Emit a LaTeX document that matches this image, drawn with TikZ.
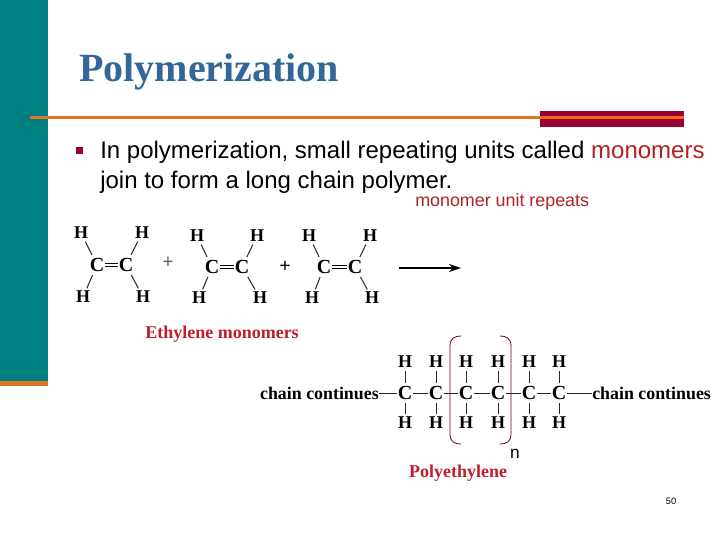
\documentclass[tikz,border=0pt]{standalone}
\usepackage{fontspec}
\usetikzlibrary{arrows.meta}
\setmainfont{Liberation Sans}
\newfontfamily\serifbf{Liberation Serif}[BoldFont={Liberation Serif Bold}]
\definecolor{tealbar}{RGB}{0,128,128}
\definecolor{orangeline}{RGB}{222,118,38}
\definecolor{stripe}{RGB}{245,105,20}
\definecolor{darkred}{RGB}{153,0,51}
\definecolor{titleblue}{RGB}{51,102,153}
\definecolor{chemred}{RGB}{190,30,45}
\definecolor{wordred}{RGB}{178,34,34}
\tikzset{
  x=0.75pt,y=-0.75pt,
  atom/.style={inner sep=0.5pt,font=\serifbf\bfseries\fontsize{13.5}{14}\selectfont,text=black},
  catom/.style={inner sep=0.5pt,font=\serifbf\bfseries\fontsize{15}{16}\selectfont,text=black},
  bond/.style={draw=black!85,line width=0.75pt},
  sbond/.style={bond,shorten <=2pt,shorten >=1.5pt},
  dbond/.style={draw=black,double=white,double distance=1.3pt,line width=0.7pt},
  chemlabel/.style={inner sep=0pt,font=\serifbf\bfseries\fontsize{13.4}{15}\selectfont,text=black},
  redlabel/.style={inner sep=0pt,font=\serifbf\bfseries\fontsize{13.5}{15}\selectfont,text=chemred},
  bracketline/.style={draw=darkred!75!black,line width=0.6pt},
  plain/.style={inner sep=0pt,anchor=base west},
}
\newcommand{\monomer}[7]{%
  \node[catom] (#1cl) at (#2) {C};
  \node[catom] (#1cr) at (#3) {C};
  \node[atom] (#1tl) at (#4) {H};
  \node[atom] (#1tr) at (#5) {H};
  \node[atom] (#1bl) at (#6) {H};
  \node[atom] (#1br) at (#7) {H};
  \draw[dbond] (#1cl) -- (#1cr);
  \draw[sbond] (#1cl) -- (#1tl);
  \draw[sbond] (#1cr) -- (#1tr);
  \draw[sbond] (#1cl) -- (#1bl);
  \draw[sbond] (#1cr) -- (#1br);
}
\begin{document}
\begin{tikzpicture}
\useasboundingbox (0,0) rectangle (720,540);
\fill[white] (0,0) rectangle (720,540);
\fill[tealbar] (0,0) rectangle (47.5,381);
\fill[orangeline] (0,381) rectangle (47.5,386);
\fill[orangeline] (30,115.7) rectangle (540,118.7);
\fill[darkred] (540,111) rectangle (684,127);
\fill[stripe] (540,115.7) rectangle (684,118.7);

\node[plain,font=\serifbf\bfseries\fontsize{30}{32}\selectfont,text=titleblue] (title) at (79,81) {Polymerization};

\fill[darkred] (76,147) rectangle (83,154);
\node[plain,font=\fontsize{18}{20}\selectfont] (l1) at (100,158) {In polymerization, small repeating units called \textcolor{wordred}{monomers}};
\node[plain,font=\fontsize{18}{20}\selectfont] (l2) at (100,188) {join to form a long chain polymer.};
\node[plain,font=\fontsize{13.4}{15}\selectfont,text=wordred] (mur) at (415,206) {monomer unit repeats};

\monomer{a}{97,265}{126,265}{81,233}{142,233}{83,297}{143,297}
\monomer{b}{212,267}{242,267}{197,236}{257,236}{199,298}{260,298}
\monomer{c}{324,267}{355,267}{309,236}{370,236}{312,298}{372,298}
\node[atom,text=black!60,font=\serifbf\bfseries\fontsize{15}{16}\selectfont] (p1) at (168,263) {+};
\node[atom,font=\serifbf\bfseries\fontsize{15}{16}\selectfont] (p2) at (285,267) {+};
\coordinate (as) at (399,268);
\coordinate (ae) at (461,268);
\draw[-{Stealth[length=9pt,width=6pt]},line width=0.9pt] (as) -- (ae);
\node[redlabel] (em) at (222,334.5) {Ethylene monomers};

\foreach \n/\x in {1/405,2/436,3/466,4/498,5/529,6/559}{
  \node[catom] (C\n) at (\x,393) {C};
  \node[atom] (T\n) at (\x,362) {H};
  \node[atom] (B\n) at (\x,423) {H};
  \draw[sbond] (C\n) -- (T\n);
  \draw[sbond] (C\n) -- (B\n);
}
\foreach \a/\b in {1/2,2/3,3/4,4/5,5/6}{\draw[bond] (C\a) -- (C\b);}
\node[chemlabel,anchor=east] (cl) at (379,393) {chain continues};
\node[chemlabel,anchor=west] (cr) at (592,393) {chain continues};
\draw[bond] (cl) -- (C1);
\draw[bond] (C6) -- (cr);

\coordinate (b1s) at (461,336);
\coordinate (b1e) at (461,444);
\coordinate (b2s) at (500,336);
\coordinate (b2e) at (500,444);
\draw[bracketline] (b1s) .. controls (455,336) and (450,338) .. (450,346) -- (450,434) .. controls (450,442) and (455,444) .. (b1e);
\draw[bracketline] (b2s) .. controls (506,336) and (511,338) .. (511,346) -- (511,434) .. controls (511,442) and (506,444) .. (b2e);

\node[inner sep=0pt,font=\fontsize{13}{14}\selectfont] (n) at (515,453.5) {n};
\node[redlabel] (pe) at (458,473) {Polyethylene};
\node[inner sep=0pt,font=\fontsize{7}{8}\selectfont] (pg) at (671,501) {50};
\end{tikzpicture}
\end{document}
